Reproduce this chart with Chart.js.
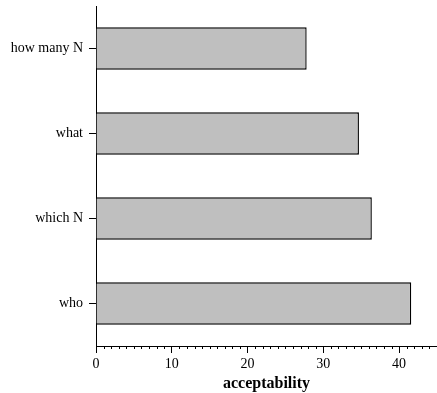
<!DOCTYPE html>
<html>
<head>
<meta charset="utf-8">
<script src="https://cdn.jsdelivr.net/npm/chart.js@4.4.1/dist/chart.umd.min.js"></script>
<style>
  html, body { margin: 0; padding: 0; background: #fff; }
  #wrap { width: 437px; height: 393px; }
</style>
</head>
<body>
<div id="wrap"><canvas id="chart"></canvas></div>
<script>
// data
const categories = ['how many N', 'what', 'which N', 'who'];
const acceptability = [27.8, 34.7, 36.4, 41.6];
const xTicks = [0, 10, 20, 30, 40];

const serif = '"Liberation Serif", "Times New Roman", serif';

// small minor tick marks every unit along the x axis
const minorTicks = {
    id: 'minorTicks',
    afterDraw(chart) {
        const x = chart.scales.x;
        const ctx = chart.ctx;
        ctx.save();
        ctx.strokeStyle = '#000';
        ctx.lineWidth = 1;
        ctx.beginPath();
        for (let v = Math.ceil(x.min); v <= x.max; v++) {
            if (v % 10 === 0) continue;
            const px = Math.round(x.getPixelForValue(v)) + 0.5;
            ctx.moveTo(px, x.top);
            ctx.lineTo(px, x.top + 3);
        }
        ctx.stroke();
        ctx.restore();
    }
};

new Chart(document.getElementById('chart'), {
    type: 'bar',
    data: {
        labels: categories,
        datasets: [{
            label: 'acceptability',
            data: acceptability,
            backgroundColor: '#bfbfbf',
            borderColor: '#000',
            borderWidth: 1.4,
            categoryPercentage: 1,
            barPercentage: 0.5
        }]
    },
    options: {
        indexAxis: 'y',
        responsive: true,
        maintainAspectRatio: false,
        animation: false,
        layout: { padding: { top: 6, right: 0, left: 0, bottom: 0 } },
        plugins: {
            legend: { display: false },
            tooltip: { enabled: false }
        },
        scales: {
            x: {
                type: 'linear',
                min: 0,
                max: 45,
                afterFit: (scale) => {
                    scale.height = 47;
                    scale.paddingLeft = 0;
                    scale.paddingRight = 0;
                },
                afterBuildTicks: (scale) => {
                    scale.ticks = xTicks.map(v => ({ value: v }));
                },
                ticks: {
                    color: '#000',
                    font: { family: serif, size: 14 },
                    padding: 3,
                    maxRotation: 0
                },
                grid: {
                    drawOnChartArea: false,
                    drawTicks: true,
                    tickLength: 7,
                    tickColor: '#000'
                },
                border: { display: true, color: '#000', width: 1 },
                title: {
                    display: true,
                    text: 'acceptability',
                    color: '#000',
                    font: { family: serif, size: 16, weight: 'bold' },
                    padding: { top: 3, bottom: 0 }
                }
            },
            y: {
                type: 'category',
                offset: true,
                afterFit: (scale) => {
                    scale.width = 96;
                    scale.paddingTop = 0;
                    scale.paddingBottom = 0;
                },
                ticks: {
                    color: '#000',
                    font: { family: serif, size: 14 },
                    padding: 6
                },
                grid: {
                    offset: false,
                    drawOnChartArea: false,
                    drawTicks: true,
                    tickLength: 7,
                    tickColor: '#000'
                },
                border: { display: true, color: '#000', width: 1 }
            }
        }
    },
    plugins: [minorTicks]
});
</script>
</body>
</html>
